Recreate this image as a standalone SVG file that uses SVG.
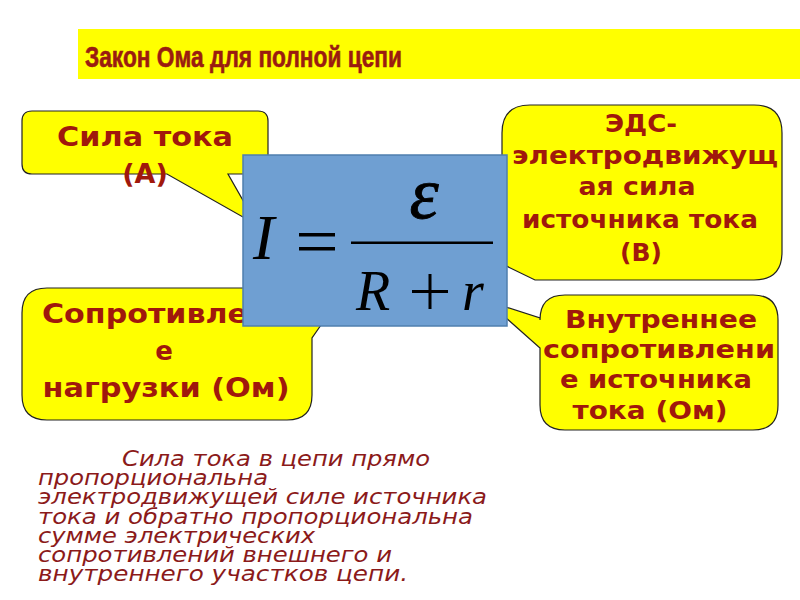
<svg xmlns="http://www.w3.org/2000/svg" width="800" height="600" viewBox="0 0 800 600">
<style>
.call{fill:#ffff00;stroke:#222;stroke-width:1.2}
.ct{font-family:"DejaVu Sans",sans-serif;font-weight:bold;fill:#a0180c;text-anchor:middle}
.math{font-family:"Liberation Serif","Times New Roman",serif;font-style:italic;fill:#000}
.body{font-family:"DejaVu Sans",sans-serif;font-style:italic;font-size:22px;fill:#8b1a1a}
</style>
<rect width="800" height="600" fill="#fff"/>
<g id="title">
<rect x="78" y="29" width="722" height="50" fill="#ffff00"/>
<text x="85" y="67" font-family="Liberation Sans,Arial,sans-serif" font-weight="bold" font-size="29" fill="#9a1c10" stroke="#9a1c10" stroke-width="0.6" textLength="317" lengthAdjust="spacingAndGlyphs">Закон Ома для полной цепи</text>
</g>
<g id="callout-current">
<path class="call" d="M32,111 H258 Q268,111 268,121 V164 Q268,174 258,174 H228 L257,225 L167,174 H32 Q22,174 22,164 V121 Q22,111 32,111 Z"/>
<text class="ct" font-size="27" x="145" y="146" textLength="176" lengthAdjust="spacingAndGlyphs">Сила тока</text>
<text class="ct" font-size="27" x="145" y="183">(А)</text>
</g>
<g id="callout-load">
<path class="call" d="M47,288 H287 Q312,288 312,313 V300 L335,305 L312,338 V395 Q312,420 287,420 H47 Q22,420 22,395 V313 Q22,288 47,288 Z"/>
<text class="ct" font-size="26" x="166" y="323" textLength="248" lengthAdjust="spacingAndGlyphs">Сопротивлени</text>
<text class="ct" font-size="26" x="164" y="360">е</text>
<text class="ct" font-size="26" x="166" y="397" textLength="247" lengthAdjust="spacingAndGlyphs">нагрузки (Ом)</text>
</g>
<g id="callout-emf">
<path class="call" d="M530,105 H754 Q782,105 782,133 V252 Q782,280 754,280 H535 L490,258 L502,230 V133 Q502,105 530,105 Z"/>
<text class="ct" font-size="25" x="641" y="132" textLength="72" lengthAdjust="spacingAndGlyphs">ЭДС-</text>
<text class="ct" font-size="25" x="645" y="164" textLength="266" lengthAdjust="spacingAndGlyphs">электродвижущ</text>
<text class="ct" font-size="25" x="637" y="195" textLength="117" lengthAdjust="spacingAndGlyphs">ая сила</text>
<text class="ct" font-size="25" x="640" y="228" textLength="236" lengthAdjust="spacingAndGlyphs">источника тока</text>
<text class="ct" font-size="25" x="641" y="261">(В)</text>
</g>
<g id="callout-internal">
<path class="call" d="M565,295 H753 Q778,295 778,320 V405 Q778,430 753,430 H565 Q540,430 540,405 V348 L487,301 L540,318 V320 Q540,295 565,295 Z"/>
<text class="ct" font-size="25" x="661" y="328" textLength="192" lengthAdjust="spacingAndGlyphs">Внутреннее</text>
<text class="ct" font-size="25" x="659" y="358" textLength="232" lengthAdjust="spacingAndGlyphs">сопротивлени</text>
<text class="ct" font-size="25" x="656" y="388" textLength="192" lengthAdjust="spacingAndGlyphs">е источника</text>
<text class="ct" font-size="25" x="650" y="419" textLength="155" lengthAdjust="spacingAndGlyphs">тока (Ом)</text>
</g>
<g id="formula">
<rect x="243" y="155" width="264" height="171" fill="#6f9fd2" stroke="#4f7fae" stroke-width="1.5"/>
<text class="math" x="253" y="259" font-size="64">I</text>
<rect x="299" y="233" width="36" height="3.5" fill="#000"/>
<rect x="299" y="247" width="36" height="3.5" fill="#000"/>
<rect x="351" y="241.5" width="142" height="2.5" fill="#000"/>
<text class="math" x="424" y="218" font-size="74" text-anchor="middle" stroke="#000" stroke-width="0.8">ε</text>
<text class="math" x="356" y="310" font-size="56">R</text>
<rect x="412" y="290" width="36" height="3" fill="#000"/>
<rect x="428.5" y="274" width="3" height="35" fill="#000"/>
<text class="math" x="462" y="310" font-size="56">r</text>
</g>
<g id="description">
<text class="body" x="122" y="466" textLength="308" lengthAdjust="spacingAndGlyphs">Сила тока в цепи прямо</text>
<text class="body" x="38" y="485" textLength="230" lengthAdjust="spacingAndGlyphs">пропорциональна</text>
<text class="body" x="38" y="504" textLength="449" lengthAdjust="spacingAndGlyphs">электродвижущей силе источника</text>
<text class="body" x="38" y="524" textLength="435" lengthAdjust="spacingAndGlyphs">тока и обратно пропорциональна</text>
<text class="body" x="38" y="543" textLength="277" lengthAdjust="spacingAndGlyphs">сумме электрических</text>
<text class="body" x="38" y="562" textLength="354" lengthAdjust="spacingAndGlyphs">сопротивлений внешнего и</text>
<text class="body" x="38" y="581" textLength="370" lengthAdjust="spacingAndGlyphs">внутреннего участков цепи.</text>
</g>
</svg>
